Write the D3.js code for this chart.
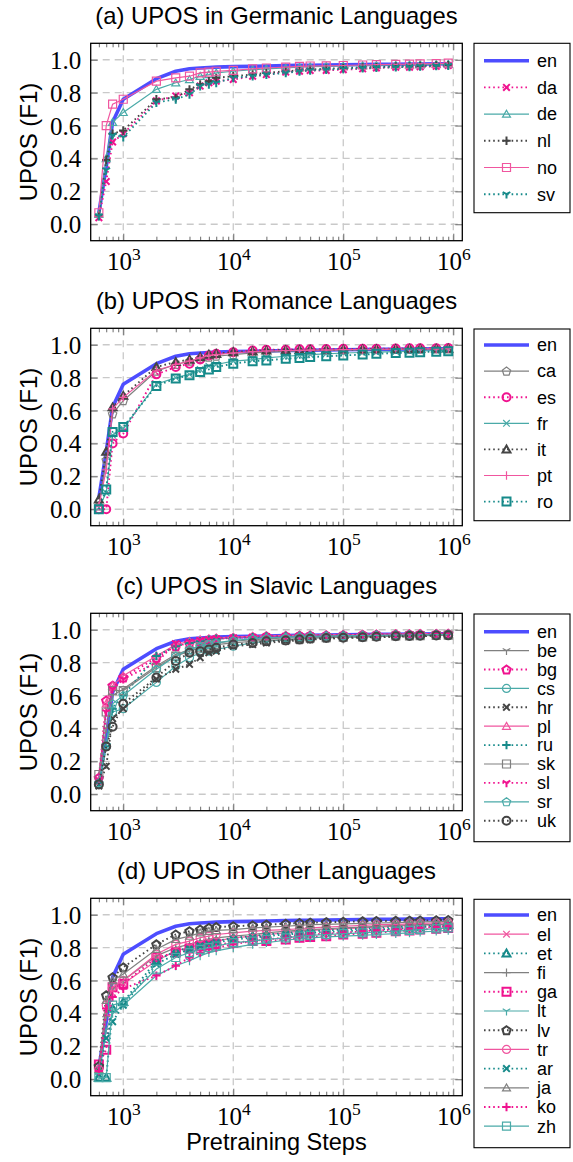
<!DOCTYPE html>
<html><head><meta charset="utf-8">
<script src="https://cdn.jsdelivr.net/npm/d3@7"></script>
<style>body{margin:0;background:#fff} svg{display:block}</style>
</head><body><svg id="c" width="573" height="1162"></svg>
<script>
// ---------- data ----------
const steps = [600, 700, 800, 1000, 2000, 3000, 4000, 5000, 6000, 7000, 10000, 15000, 20000, 30000, 40000, 50000, 70000, 100000, 150000, 200000, 300000, 400000, 500000, 700000, 900000];
const xMajorTicks = [1e3, 1e4, 1e5, 1e6];
const yTicks = [0.0, 0.2, 0.4, 0.6, 0.8, 1.0];
const panelTitles = ["(a) UPOS in Germanic Languages", "(b) UPOS in Romance Languages", "(c) UPOS in Slavic Languages", "(d) UPOS in Other Languages"];
const yAxisLabel = "UPOS (F1)";
const xAxisLabel = "Pretraining Steps";

const en = [0.07, 0.35, 0.62, 0.76, 0.885, 0.93, 0.945, 0.95, 0.953, 0.955, 0.958, 0.96, 0.962, 0.965, 0.966, 0.967, 0.968, 0.97, 0.971, 0.972, 0.973, 0.974, 0.974, 0.975, 0.976];

// (a) Germanic
const da = [0.04, 0.26, 0.50, 0.55, 0.75, 0.78, 0.80, 0.84, 0.86, 0.87, 0.88, 0.90, 0.91, 0.925, 0.93, 0.935, 0.935, 0.94, 0.945, 0.95, 0.955, 0.955, 0.957, 0.96, 0.965];
const de = [0.06, 0.40, 0.62, 0.68, 0.82, 0.86, 0.88, 0.90, 0.91, 0.92, 0.93, 0.94, 0.945, 0.95, 0.955, 0.958, 0.96, 0.962, 0.965, 0.966, 0.968, 0.97, 0.97, 0.972, 0.973];
const nl = [0.05, 0.39, 0.55, 0.57, 0.76, 0.77, 0.82, 0.85, 0.87, 0.89, 0.90, 0.91, 0.92, 0.93, 0.935, 0.94, 0.945, 0.95, 0.953, 0.955, 0.96, 0.96, 0.962, 0.965, 0.968];
const no = [0.07, 0.60, 0.73, 0.76, 0.87, 0.89, 0.90, 0.92, 0.925, 0.93, 0.935, 0.945, 0.95, 0.955, 0.96, 0.962, 0.963, 0.965, 0.968, 0.97, 0.972, 0.973, 0.975, 0.977, 0.98];
const sv = [0.05, 0.33, 0.54, 0.53, 0.74, 0.76, 0.79, 0.84, 0.85, 0.86, 0.89, 0.90, 0.91, 0.92, 0.93, 0.935, 0.94, 0.945, 0.95, 0.953, 0.955, 0.957, 0.96, 0.963, 0.965];

// (b) Romance
const ca = [0.02, 0.30, 0.58, 0.66, 0.84, 0.88, 0.90, 0.915, 0.925, 0.93, 0.94, 0.95, 0.955, 0.96, 0.962, 0.964, 0.965, 0.967, 0.968, 0.97, 0.971, 0.972, 0.973, 0.974, 0.975];
const es = [0.00, 0.00, 0.40, 0.46, 0.82, 0.865, 0.885, 0.91, 0.935, 0.945, 0.955, 0.965, 0.97, 0.97, 0.972, 0.973, 0.974, 0.975, 0.975, 0.976, 0.977, 0.978, 0.978, 0.979, 0.98];
const fr = [0.01, 0.10, 0.45, 0.49, 0.76, 0.80, 0.82, 0.85, 0.87, 0.88, 0.90, 0.91, 0.92, 0.93, 0.935, 0.94, 0.945, 0.95, 0.953, 0.955, 0.958, 0.96, 0.962, 0.964, 0.966];
const it = [0.06, 0.35, 0.62, 0.69, 0.865, 0.895, 0.91, 0.925, 0.94, 0.945, 0.955, 0.96, 0.965, 0.967, 0.968, 0.969, 0.97, 0.971, 0.972, 0.973, 0.974, 0.975, 0.975, 0.976, 0.977];
const pt = [0.02, 0.24, 0.61, 0.68, 0.845, 0.88, 0.90, 0.92, 0.935, 0.94, 0.95, 0.958, 0.962, 0.965, 0.966, 0.967, 0.968, 0.97, 0.971, 0.972, 0.973, 0.974, 0.975, 0.975, 0.976];
const ro = [0.00, 0.12, 0.47, 0.50, 0.75, 0.795, 0.815, 0.835, 0.85, 0.865, 0.885, 0.90, 0.905, 0.915, 0.92, 0.925, 0.93, 0.935, 0.94, 0.945, 0.95, 0.952, 0.955, 0.958, 0.96];

// (c) Slavic
const be = [0.08, 0.40, 0.60, 0.64, 0.78, 0.85, 0.88, 0.90, 0.91, 0.92, 0.93, 0.94, 0.945, 0.95, 0.952, 0.955, 0.957, 0.96, 0.962, 0.963, 0.965, 0.966, 0.967, 0.968, 0.97];
const bg = [0.10, 0.57, 0.66, 0.71, 0.83, 0.90, 0.92, 0.93, 0.94, 0.945, 0.95, 0.955, 0.96, 0.962, 0.964, 0.965, 0.966, 0.968, 0.97, 0.971, 0.972, 0.973, 0.974, 0.975, 0.976];
const cs = [0.06, 0.29, 0.50, 0.52, 0.68, 0.78, 0.83, 0.86, 0.87, 0.88, 0.90, 0.92, 0.93, 0.94, 0.945, 0.95, 0.952, 0.955, 0.957, 0.96, 0.962, 0.963, 0.965, 0.966, 0.968];
const hr = [0.05, 0.17, 0.46, 0.52, 0.70, 0.76, 0.79, 0.83, 0.86, 0.87, 0.90, 0.91, 0.92, 0.93, 0.935, 0.94, 0.945, 0.95, 0.952, 0.955, 0.957, 0.96, 0.962, 0.963, 0.965];
const pl = [0.08, 0.55, 0.66, 0.72, 0.84, 0.91, 0.93, 0.94, 0.945, 0.95, 0.955, 0.96, 0.963, 0.965, 0.967, 0.968, 0.969, 0.97, 0.971, 0.972, 0.973, 0.974, 0.975, 0.976, 0.977];
const ru = [0.07, 0.29, 0.52, 0.60, 0.84, 0.90, 0.92, 0.93, 0.94, 0.945, 0.95, 0.955, 0.96, 0.962, 0.964, 0.965, 0.966, 0.968, 0.969, 0.97, 0.971, 0.972, 0.973, 0.974, 0.975];
const sk = [0.12, 0.50, 0.63, 0.63, 0.77, 0.84, 0.87, 0.89, 0.90, 0.91, 0.92, 0.93, 0.935, 0.94, 0.945, 0.95, 0.952, 0.955, 0.957, 0.96, 0.962, 0.963, 0.964, 0.965, 0.967];
const sl = [0.09, 0.50, 0.64, 0.70, 0.80, 0.92, 0.93, 0.94, 0.945, 0.95, 0.955, 0.96, 0.963, 0.965, 0.966, 0.967, 0.968, 0.97, 0.971, 0.972, 0.973, 0.974, 0.975, 0.975, 0.976];
const sr = [0.07, 0.30, 0.55, 0.60, 0.76, 0.84, 0.88, 0.90, 0.91, 0.92, 0.935, 0.945, 0.95, 0.955, 0.958, 0.96, 0.962, 0.964, 0.965, 0.966, 0.967, 0.968, 0.969, 0.97, 0.971];
const uk = [0.06, 0.29, 0.41, 0.55, 0.71, 0.81, 0.86, 0.87, 0.88, 0.89, 0.91, 0.92, 0.93, 0.935, 0.94, 0.945, 0.95, 0.952, 0.955, 0.957, 0.96, 0.962, 0.963, 0.965, 0.966];

// (d) Other
const el = [0.05, 0.40, 0.55, 0.58, 0.72, 0.78, 0.80, 0.82, 0.83, 0.84, 0.86, 0.87, 0.88, 0.89, 0.90, 0.905, 0.91, 0.915, 0.92, 0.925, 0.93, 0.935, 0.937, 0.94, 0.942];
const et = [0.01, 0.01, 0.43, 0.47, 0.72, 0.78, 0.80, 0.82, 0.83, 0.84, 0.86, 0.87, 0.88, 0.89, 0.895, 0.90, 0.905, 0.91, 0.915, 0.92, 0.925, 0.93, 0.932, 0.935, 0.938];
const fi = [0.04, 0.38, 0.55, 0.60, 0.75, 0.80, 0.82, 0.84, 0.85, 0.86, 0.87, 0.88, 0.89, 0.90, 0.905, 0.91, 0.915, 0.92, 0.925, 0.93, 0.935, 0.938, 0.94, 0.942, 0.945];
const ga = [0.09, 0.18, 0.56, 0.58, 0.74, 0.77, 0.795, 0.81, 0.815, 0.82, 0.83, 0.84, 0.84, 0.85, 0.86, 0.865, 0.87, 0.88, 0.885, 0.89, 0.90, 0.905, 0.91, 0.915, 0.92];
const lt = [0.02, 0.30, 0.40, 0.45, 0.63, 0.69, 0.72, 0.75, 0.77, 0.78, 0.80, 0.82, 0.83, 0.845, 0.855, 0.86, 0.865, 0.87, 0.875, 0.88, 0.885, 0.89, 0.895, 0.90, 0.905];
const lv = [0.08, 0.51, 0.62, 0.68, 0.82, 0.88, 0.90, 0.91, 0.92, 0.925, 0.93, 0.935, 0.94, 0.945, 0.95, 0.952, 0.955, 0.957, 0.96, 0.962, 0.963, 0.964, 0.965, 0.966, 0.968];
const tr = [0.06, 0.45, 0.56, 0.60, 0.76, 0.82, 0.84, 0.86, 0.87, 0.88, 0.89, 0.90, 0.905, 0.91, 0.915, 0.92, 0.925, 0.93, 0.935, 0.94, 0.942, 0.945, 0.947, 0.95, 0.952];
const ar = [0.03, 0.25, 0.35, 0.45, 0.70, 0.76, 0.79, 0.81, 0.82, 0.83, 0.85, 0.86, 0.87, 0.88, 0.885, 0.89, 0.895, 0.90, 0.905, 0.91, 0.915, 0.92, 0.925, 0.93, 0.935];
const ja = [0.06, 0.48, 0.60, 0.64, 0.79, 0.85, 0.87, 0.89, 0.90, 0.905, 0.91, 0.92, 0.925, 0.93, 0.935, 0.94, 0.942, 0.945, 0.947, 0.95, 0.952, 0.955, 0.957, 0.958, 0.96];
const ko = [0.05, 0.43, 0.50, 0.55, 0.63, 0.69, 0.74, 0.77, 0.79, 0.80, 0.82, 0.84, 0.85, 0.86, 0.87, 0.88, 0.885, 0.89, 0.90, 0.905, 0.91, 0.915, 0.92, 0.925, 0.93];
const zh = [0.01, 0.01, 0.45, 0.47, 0.67, 0.74, 0.77, 0.79, 0.80, 0.81, 0.83, 0.84, 0.85, 0.86, 0.87, 0.875, 0.88, 0.885, 0.89, 0.895, 0.90, 0.905, 0.91, 0.915, 0.92];

// ---------- styles ----------
const C = {
  blue: "#4d4dff",
  magD: "#f0138f", magL: "#f0569f",
  tealD: "#168a8a", tealL: "#4aaaa8",
  grayD: "#444444", grayL: "#808080"
};
const S = (name, values, color, dotted, marker) => ({name, values, color, dotted, marker});

const panels = [
  {title: panelTitles[0], top: 43.3, legTop: 43.3, legBottom: 212.7, legFirst: 60.7, legStep: 26.7, series: [
    S("da", da, C.magD, true, "x"), S("de", de, C.tealL, false, "tri"), S("nl", nl, C.grayD, true, "plus"),
    S("no", no, C.magL, false, "sq"), S("sv", sv, C.tealD, true, "Y")]},
  {title: panelTitles[1], top: 328.3, legTop: 329, legBottom: 520.7, legFirst: 345, legStep: 26.1, series: [
    S("ca", ca, C.grayL, false, "pent"), S("es", es, C.magD, true, "circ"), S("fr", fr, C.tealL, false, "x"),
    S("it", it, C.grayD, true, "tri"), S("pt", pt, C.magL, false, "plus"), S("ro", ro, C.tealD, true, "sq")]},
  {title: panelTitles[2], top: 613.3, legTop: 614, legBottom: 841.7, legFirst: 631.7, legStep: 18.9, series: [
    S("be", be, C.grayL, false, "Y"), S("bg", bg, C.magD, true, "pent"), S("cs", cs, C.tealL, false, "circ"),
    S("hr", hr, C.grayD, true, "x"), S("pl", pl, C.magL, false, "tri"), S("ru", ru, C.tealD, true, "plus"),
    S("sk", sk, C.grayL, false, "sq"), S("sl", sl, C.magD, true, "Y"), S("sr", sr, C.tealL, false, "pent"),
    S("uk", uk, C.grayD, true, "circ")]},
  {title: panelTitles[3], top: 898.3, legTop: 899.3, legBottom: 1147.7, legFirst: 915, legStep: 19.2, series: [
    S("el", el, C.magL, false, "x"), S("et", et, C.tealD, true, "tri"), S("fi", fi, C.grayL, false, "plus"),
    S("ga", ga, C.magD, true, "sq"), S("lt", lt, C.tealL, false, "Y"), S("lv", lv, C.grayD, true, "pent"),
    S("tr", tr, C.magL, false, "circ"), S("ar", ar, C.tealD, true, "x"), S("ja", ja, C.grayL, false, "tri"),
    S("ko", ko, C.magD, true, "plus"), S("zh", zh, C.tealL, false, "sq")]}
];

// ---------- layout ----------
const plotL = 90.7, plotR = 462.3, plotH = 197.4;
const legL = 474, legR = 570;
const sansF = "'Liberation Sans', Arial, Helvetica, sans-serif";
const serifF = "'Liberation Serif', 'Times New Roman', serif";

function markerPath(type) {
  const p = d3.path();
  if (type === "x") { const r = 3.3; p.moveTo(-r,-r); p.lineTo(r,r); p.moveTo(-r,r); p.lineTo(r,-r); }
  else if (type === "plus") { const r = 4.2; p.moveTo(-r,0); p.lineTo(r,0); p.moveTo(0,-r); p.lineTo(0,r); }
  else if (type === "sq") { const r = 4; p.rect(-r,-r,2*r,2*r); }
  else if (type === "tri") { const r = 4.6; for (let k=0;k<3;k++){const a=-Math.PI/2+k*2*Math.PI/3; k?p.lineTo(r*Math.cos(a), r*Math.sin(a)+0.8):p.moveTo(r*Math.cos(a), r*Math.sin(a)+0.8);} p.closePath(); }
  else if (type === "pent") { const r = 4.4; for (let k=0;k<5;k++){const a=-Math.PI/2+k*2*Math.PI/5; k?p.lineTo(r*Math.cos(a), r*Math.sin(a)+0.4):p.moveTo(r*Math.cos(a), r*Math.sin(a)+0.4);} p.closePath(); }
  else if (type === "circ") { const r = 4; p.moveTo(r,0); p.arc(0,0,r,0,2*Math.PI); }
  else if (type === "Y") { const r = 4.4; p.moveTo(0,0); p.lineTo(0,r); p.moveTo(0,0); p.lineTo(-r*0.866,-r*0.5); p.moveTo(0,0); p.lineTo(r*0.866,-r*0.5); }
  return p.toString();
}

const svg = d3.select("#c");
const x = d3.scaleLog().domain([Math.pow(10, 2.704), Math.pow(10, 6.082)]).range([plotL, plotR]);
const minorTicks = [];
[100, 1000, 10000, 100000].forEach(b => { for (let k = 2; k <= 9; k++) { const v = b * k; if (v > x.domain()[0] && v < x.domain()[1]) minorTicks.push(v); } });

panels.forEach((P, pi) => {
  const top = P.top, bottom = top + plotH;
  const y = d3.scaleLinear().domain([-0.1, 1.1]).range([bottom, top]);
  const g = svg.append("g");

  // grid
  const grid = g.append("g").attr("stroke", "#c9c9c9").attr("stroke-width", 1.3).attr("stroke-dasharray", "7,5");
  grid.selectAll("line.gx").data(xMajorTicks).join("line").attr("x1", d => x(d)).attr("x2", d => x(d)).attr("y1", top).attr("y2", bottom);
  grid.selectAll("line.gy").data(yTicks).join("line").attr("y1", d => y(d)).attr("y2", d => y(d)).attr("x1", plotL).attr("x2", plotR);

  // ticks (inside)
  const tickStyle = sel => { sel.select(".domain").remove(); sel.selectAll(".tick line").attr("stroke", "#6a6a6a").attr("stroke-width", 1); };
  g.append("g").attr("transform", `translate(0,${bottom})`).call(d3.axisBottom(x).tickValues(minorTicks).tickSize(-4).tickFormat("")).call(tickStyle);
  g.append("g").attr("transform", `translate(0,${top})`).call(d3.axisTop(x).tickValues(minorTicks).tickSize(-4).tickFormat("")).call(tickStyle);
  g.append("g").attr("transform", `translate(0,${top})`).call(d3.axisTop(x).tickValues(xMajorTicks).tickSize(-7).tickFormat("")).call(tickStyle);
  const xb = g.append("g").attr("transform", `translate(0,${bottom})`).call(d3.axisBottom(x).tickValues(xMajorTicks).tickSize(-7).tickFormat("")).call(tickStyle);
  xb.selectAll(".tick").each(function(d) {
    const t = d3.select(this).append("text").attr("fill", "#000").attr("font-family", serifF).attr("font-size", 25)
      .attr("text-anchor", "middle").attr("y", 29).attr("x", 0);
    t.append("tspan").text("10");
    t.append("tspan").attr("font-size", 17.5).attr("dy", -10).text(String(Math.round(Math.log10(d))));
  });
  g.append("g").attr("transform", `translate(${plotR},0)`).call(d3.axisRight(y).tickValues(yTicks).tickSize(-7).tickFormat("")).call(tickStyle);
  const yl = g.append("g").attr("transform", `translate(${plotL},0)`).call(d3.axisLeft(y).tickValues(yTicks).tickSize(-7).tickPadding(9.5).tickFormat(d3.format(".1f"))).call(tickStyle);
  yl.selectAll(".tick text").attr("font-family", serifF).attr("font-size", 25).attr("fill", "#000").attr("dy", "0.34em");

  // series
  const line = d3.line().x((d, i) => x(steps[i])).y(d => y(d));
  const plotG = g.append("g");
  plotG.append("path").attr("d", line(en)).attr("fill", "none").attr("stroke", C.blue).attr("stroke-width", 3.6).attr("stroke-linejoin", "round");
  P.series.forEach(s => {
    const sg = plotG.append("g");
    sg.append("path").attr("d", line(s.values)).attr("fill", "none").attr("stroke", s.color)
      .attr("stroke-width", s.dotted ? 1.9 : 1.2).attr("stroke-dasharray", s.dotted ? "1.6,3" : null);
    sg.selectAll("path.m").data(s.values).join("path").attr("class", "m")
      .attr("d", markerPath(s.marker)).attr("transform", (d, i) => `translate(${x(steps[i])},${y(d)})`)
      .attr("fill", "none").attr("stroke", s.color).attr("stroke-width", s.dotted ? 2 : 1.2);
  });

  // frame
  g.append("rect").attr("x", plotL).attr("y", top).attr("width", plotR - plotL).attr("height", plotH)
    .attr("fill", "none").attr("stroke", "#000").attr("stroke-width", 1.3);

  // title
  g.append("text").attr("x", (plotL + plotR) / 2).attr("y", top - 19).attr("text-anchor", "middle")
    .attr("font-family", sansF).attr("font-size", 23.8).attr("fill", "#000").text(P.title);
  // y label
  g.append("text").attr("transform", `translate(37,${(top + bottom) / 2}) rotate(-90)`).attr("text-anchor", "middle")
    .attr("font-family", sansF).attr("font-size", 24).attr("fill", "#000").text(yAxisLabel);

  // legend
  const lg = g.append("g");
  lg.append("rect").attr("x", legL).attr("y", P.legTop).attr("width", legR - legL).attr("height", P.legBottom - P.legTop)
    .attr("fill", "#fff").attr("stroke", "#000").attr("stroke-width", 1.1);
  const entries = [{name: "en", color: C.blue, en: true}].concat(P.series);
  entries.forEach((s, i) => {
    const yy = P.legFirst + i * P.legStep;
    if (s.en) {
      lg.append("line").attr("x1", 484).attr("x2", 529).attr("y1", yy).attr("y2", yy).attr("stroke", C.blue).attr("stroke-width", 3.6);
    } else {
      lg.append("line").attr("x1", 484).attr("x2", 529).attr("y1", yy).attr("y2", yy).attr("stroke", s.color)
        .attr("stroke-width", s.dotted ? 1.9 : 1.2).attr("stroke-dasharray", s.dotted ? "1.6,3" : null);
      lg.append("path").attr("d", markerPath(s.marker)).attr("transform", `translate(506.5,${yy})`)
        .attr("fill", "none").attr("stroke", s.color).attr("stroke-width", s.dotted ? 2 : 1.2);
    }
    lg.append("text").attr("x", 537).attr("y", yy).attr("dy", "0.35em").attr("font-family", sansF).attr("font-size", 18)
      .attr("fill", "#000").text(s.name);
  });

  if (pi === 3) {
    g.append("text").attr("x", (plotL + plotR) / 2).attr("y", 1150).attr("text-anchor", "middle")
      .attr("font-family", sansF).attr("font-size", 23.5).attr("fill", "#000").text(xAxisLabel);
  }
});
</script>
</body></html>
